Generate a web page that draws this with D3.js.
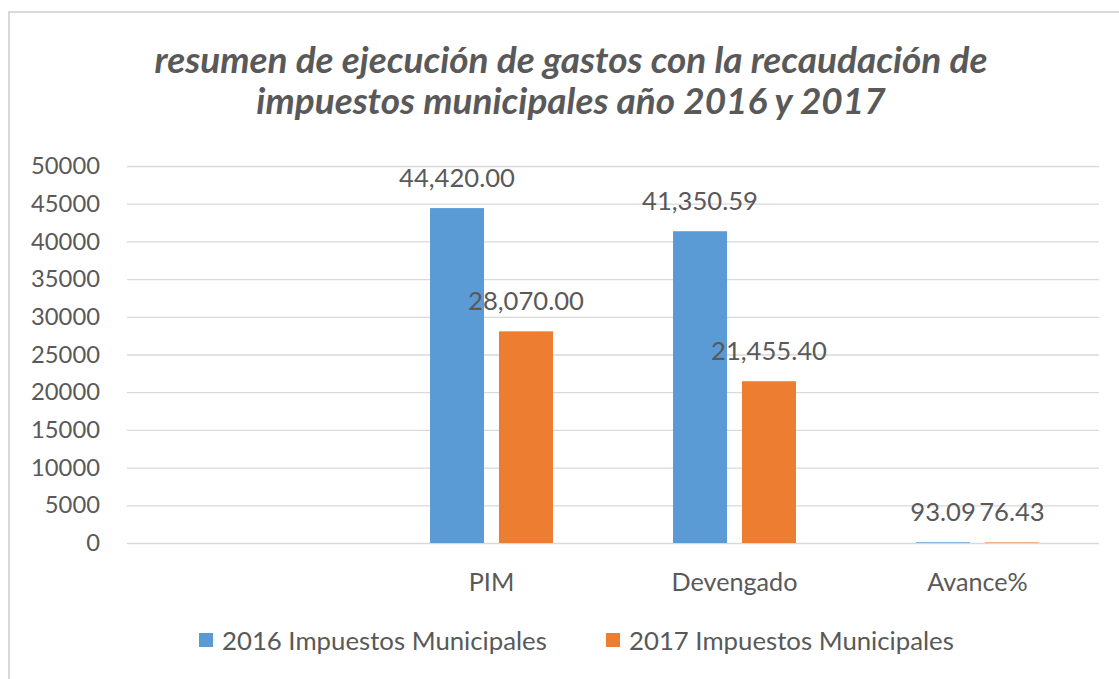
<!DOCTYPE html>
<html>
<head>
<meta charset="utf-8">
<script src="https://cdn.jsdelivr.net/npm/d3@7"></script>
<style>
  html, body { margin: 0; padding: 0; background: #fff; }
  svg { display: block; }
  text { font-family: Lato, "Open Sans", sans-serif; fill: #595959; }
</style>
</head>
<body>
<svg id="chart" width="1119" height="679"></svg>
<script>
// ---- data ----
const titleLines = ["resumen de ejecución de gastos con la recaudación de", "impuestos municipales año 2016 y 2017"];
const categories = ["", "PIM", "Devengado", "Avance%"];
const seriesNames = ["2016 Impuestos Municipales", "2017 Impuestos Municipales"];
const values2016 = [null, 44420.00, 41350.59, 93.09];
const values2017 = [null, 28070.00, 21455.40, 76.43];
const labels2016 = ["", "44,420.00", "41,350.59", "93.09"];
const labels2017 = ["", "28,070.00", "21,455.40", "76.43"];
const yTicks = [0, 5000, 10000, 15000, 20000, 25000, 30000, 35000, 40000, 45000, 50000];
const colors = ["#5B9BD5", "#ED7D31"];

const svg = d3.select("#chart");
const W = 1119, H = 679;

// chart border (only top/left visible in the crop)
svg.append("rect").attr("x", 9).attr("y", 12).attr("width", W + 20).attr("height", H + 20)
  .attr("fill", "#fff").attr("stroke", "#d9d9d9").attr("stroke-width", 2);

// helper to fit font size to a target width
function fitSize(str, targetW, weight, style) {
  const t = svg.append("text").attr("font-size", 100).attr("font-weight", weight || "normal")
    .attr("font-style", style || "normal").text(str);
  const w = t.node().getComputedTextLength();
  t.remove();
  return 100 * targetW / w;
}

const plot = { left: 127, right: 1099, top: 166, bottom: 543 };

const x = d3.scaleBand().domain(categories).range([plot.left, plot.right])
  .paddingInner(0.494).paddingOuter(0.247);
const xi = d3.scaleBand().domain([0, 1]).range([0, x.bandwidth()]).paddingInner(0.217).paddingOuter(0);
const y = d3.scaleLinear().domain([0, 50000]).range([plot.bottom, plot.top]);

// title
const titleSize = fitSize(titleLines[0], 833, "bold", "italic");
svg.append("g").selectAll("text").data(titleLines).join("text")
  .attr("x", 571).attr("y", (d, i) => 73 + i * 41)
  .attr("text-anchor", "middle").attr("font-size", titleSize)
  .attr("font-weight", "bold").attr("font-style", "italic").text(d => d);

// gridlines + y axis labels
const tickSize = fitSize("50000", 69);
const yAxis = d3.axisLeft(y).tickValues(yTicks).tickSize(-(plot.right - plot.left)).tickPadding(27).tickFormat(d3.format("d"));
const gy = svg.append("g").attr("transform", `translate(${plot.left},0)`).call(yAxis);
gy.select(".domain").remove();
gy.selectAll(".tick line").attr("stroke", "#d9d9d9").attr("stroke-width", 1.3);
gy.selectAll(".tick text").attr("font-size", tickSize).attr("fill", "#595959")
  .style("font-family", "Lato, sans-serif");

// bars
const series = [values2016, values2017];
const labelsets = [labels2016, labels2017];
series.forEach((vals, s) => {
  const g = svg.append("g");
  const data = categories.map((c, i) => ({ c, v: vals[i], l: labelsets[s][i] })).filter(d => d.v != null);
  g.selectAll("rect").data(data).join("rect")
    .attr("x", d => x(d.c) + xi(s)).attr("width", xi.bandwidth())
    .attr("y", d => y(d.v)).attr("height", d => y(0) - y(d.v))
    .attr("fill", colors[s]);
  const labSize = fitSize("44,420.00", 116);
  g.selectAll("text").data(data).join("text")
    .attr("x", d => x(d.c) + xi(s) + xi.bandwidth() / 2)
    .attr("y", d => y(d.v) - 21)
    .attr("text-anchor", "middle").attr("font-size", labSize).text(d => d.l);
});

// x axis labels
const xSize = fitSize("Devengado", 126);
const xAxis = d3.axisBottom(x).tickSize(0).tickPadding(30);
const gx = svg.append("g").attr("transform", `translate(0,${plot.bottom})`).call(xAxis);
gx.select(".domain").remove();
gx.selectAll(".tick text").attr("font-size", xSize).attr("fill", "#595959")
  .style("font-family", "Lato, sans-serif");

// legend
const legSize = fitSize(seriesNames[0], 325);
const legendX = [199, 606];
const lg = svg.append("g").selectAll("g").data(seriesNames).join("g")
  .attr("transform", (d, i) => `translate(${legendX[i]},633)`);
lg.append("rect").attr("width", 14).attr("height", 14).attr("fill", (d, i) => colors[i]);
lg.append("text").attr("x", 23).attr("y", 17).attr("font-size", legSize).text(d => d);
</script>
</body>
</html>
